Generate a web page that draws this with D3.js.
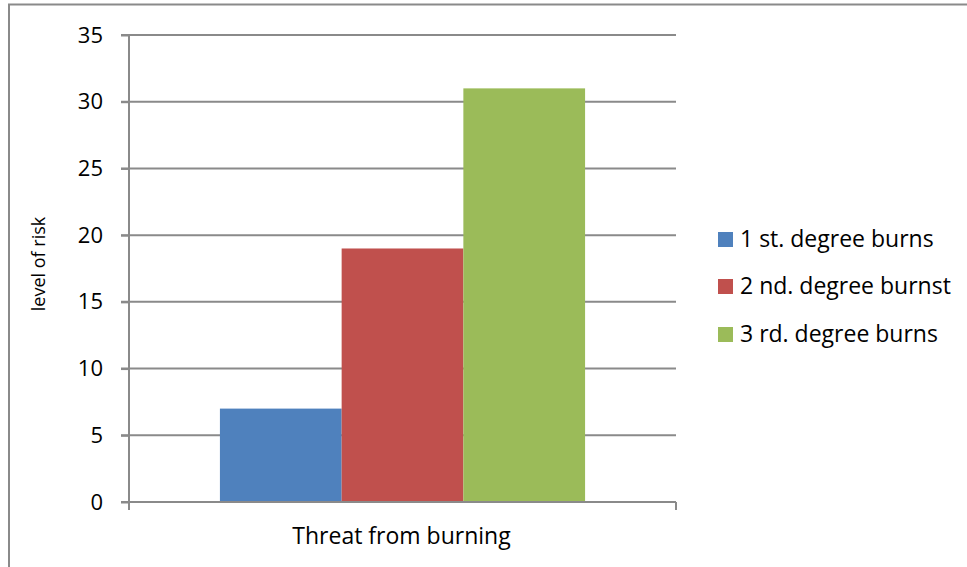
<!DOCTYPE html>
<html>
<head>
<meta charset="utf-8">
<script src="https://cdn.jsdelivr.net/npm/d3@7"></script>
<style>
  html, body { margin: 0; padding: 0; background: #fff; }
  svg { display: block; }
  text { font-family: "Open Sans", "Noto Sans", sans-serif; fill: #000; }
</style>
</head>
<body>
<svg id="chart" width="967" height="567"></svg>
<script>
// Chart data
const categories = ["Threat from burning"];
const seriesNames = ["1 st. degree burns", "2 nd. degree burnst", "3 rd. degree burns"];
const seriesValues = [7, 19, 31];
const seriesColors = ["#4F81BD", "#C0504D", "#9BBB59"];
const yTicks = [0, 5, 10, 15, 20, 25, 30, 35];
const yTitle = "level of risk";

const svg = d3.select("#chart");
const grey = "#8a8a8a";

// Outer frame (top and left edges visible in the canvas)
svg.append("path")
  .attr("d", "M9,567 V4.5 H967")
  .attr("fill", "none")
  .attr("stroke", grey)
  .attr("stroke-width", 2);

const plot = { left: 129, right: 676, top: 35, bottom: 502 };

const y = d3.scaleLinear().domain([0, 35]).range([plot.bottom, plot.top]);
const x0 = d3.scaleBand().domain(categories)
  .range([plot.left, plot.right]).paddingInner(0).paddingOuter(0.249);
const x1 = d3.scaleBand().domain(seriesNames).range([0, x0.bandwidth()]).padding(0);

// Horizontal gridlines
svg.append("g").selectAll("line").data(yTicks.filter(d => d > 0)).join("line")
  .attr("x1", plot.left - 8).attr("x2", plot.right)
  .attr("y1", d => y(d)).attr("y2", d => y(d))
  .attr("stroke", grey).attr("stroke-width", 2);

// Bars
const g = svg.append("g");
categories.forEach(cat => {
  g.selectAll("rect.s").data(seriesNames).join("rect")
    .attr("x", n => x0(cat) + x1(n))
    .attr("width", x1.bandwidth())
    .attr("y", (n, i) => y(seriesValues[i]))
    .attr("height", (n, i) => y(0) - y(seriesValues[i]))
    .attr("fill", (n, i) => seriesColors[i]);
});

// Y axis
const yAxis = d3.axisLeft(y).tickValues(yTicks).tickSize(8).tickPadding(18);
const ya = svg.append("g").attr("transform", `translate(${plot.left},0)`).call(yAxis);
ya.select(".domain").attr("stroke", grey).attr("stroke-width", 2)
  .attr("d", `M-8,${plot.top}H0V${plot.bottom}H-8`);
ya.selectAll(".tick line").attr("stroke", grey).attr("stroke-width", 2);
ya.selectAll(".tick text").attr("font-size", 22).attr("font-family", "Open Sans").attr("fill", "#000");

// X axis (baseline with boundary ticks)
svg.append("line")
  .attr("x1", plot.left - 8).attr("x2", plot.right)
  .attr("y1", y(0)).attr("y2", y(0))
  .attr("stroke", grey).attr("stroke-width", 2);
[plot.left, plot.right].forEach(px => {
  svg.append("line")
    .attr("x1", px).attr("x2", px)
    .attr("y1", y(0)).attr("y2", y(0) + 8)
    .attr("stroke", grey).attr("stroke-width", 2);
});
svg.append("g").selectAll("text").data(categories).join("text")
  .attr("x", d => x0(d) + x0.bandwidth() / 2 - 1)
  .attr("y", 544)
  .attr("text-anchor", "middle")
  .attr("font-size", 23)
  .text(d => d);

// Y title
svg.append("text")
  .attr("transform", `translate(45,264) rotate(-90)`)
  .attr("text-anchor", "middle")
  .attr("font-size", 18)
  .text(yTitle);

// Legend
const legend = svg.append("g").attr("transform", "translate(718,0)");
const rowY = [239, 286, 334];
seriesNames.forEach((n, i) => {
  legend.append("rect")
    .attr("x", 0).attr("y", rowY[i] - 7)
    .attr("width", 15).attr("height", 15)
    .attr("fill", seriesColors[i]);
  legend.append("text")
    .attr("x", 22).attr("y", rowY[i] + 8)
    .attr("font-size", 23)
    .text(n);
});
</script>
</body>
</html>
